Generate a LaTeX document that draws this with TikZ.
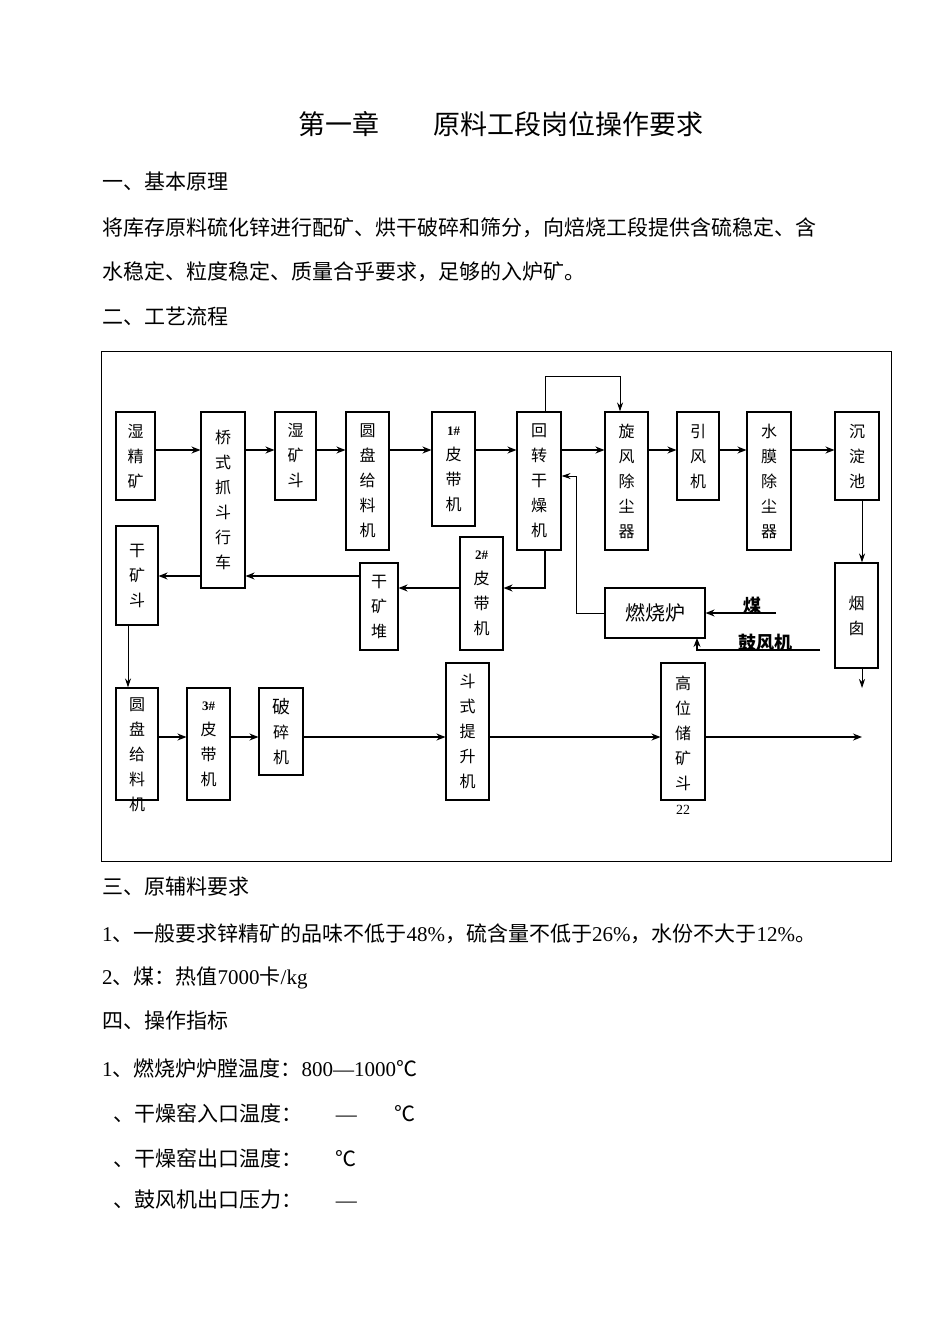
\documentclass[tikz,border=0pt]{standalone}
\usepackage{fontspec}
\setmainfont{Liberation Serif}
\newfontfamily\cjk{Noto Sans CJK SC}
\usetikzlibrary{arrows.meta}
\newcommand{\bx}[6]{%
\pgfmathsetmacro{\bw}{#4-#2}\pgfmathsetmacro{\bh}{#5-#3}%
\pgfmathsetmacro{\cx}{(#2+#4)/2}\pgfmathsetmacro{\cy}{(#3+#5)/2}%
\node[box,minimum width=\bw pt,minimum height=\bh pt] (#1) at (\cx,\cy) {#6};}
\begin{document}
\begin{tikzpicture}[x=1pt,y=-1pt,
 box/.style={draw,line width=1.1pt,inner sep=0pt,align=center,font=\fontsize{16}{25}\selectfont\cjk},
 arr/.style={-{Stealth[length=9pt,width=7pt]},line width=1.3pt},
 thin arr/.style={-{Stealth[length=9pt,width=6pt]},line width=0.8pt},
 body/.style={anchor=west,inner sep=0pt,font=\fontsize{21}{25}\selectfont}]
\useasboundingbox (0,0) rectangle (950,1344);
\node[inner sep=0pt,font=\fontsize{27}{30}\selectfont\cjk] (title) at (501,124) {第一章\hspace{2em}原料工段岗位操作要求};
\node[body] (t1) at (102,182) {\cjk 一、基本原理};
\node[body] (t2) at (102,228) {\cjk 将库存原料硫化锌进行配矿、烘干破碎和筛分，向焙烧工段提供含硫稳定、含};
\node[body] (t3) at (102,272) {\cjk 水稳定、粒度稳定、质量合乎要求，足够的入炉矿。};
\node[body] (t4) at (102,316) {\cjk 二、工艺流程};
\node[body] (t5) at (102,887) {\cjk 三、原辅料要求};
\node[body] (t6) at (102,934) {1{\cjk 、一般要求锌精矿的品味不低于}48\%{\cjk ，硫含量不低于}26\%{\cjk ，水份不大于}12\%{\cjk 。}};
\node[body] (t7) at (102,978) {2{\cjk 、煤：热值}7000{\cjk 卡}/kg};
\node[body] (t8) at (102,1021) {\cjk 四、操作指标};
\node[body] (t9) at (102,1068) {1{\cjk 、燃烧炉炉膛温度：}800—1000{\cjk ℃}};
\node[body] (t10) at (113,1113) {{\cjk 、干燥窑入口温度：}\hspace{1.6em}—\hspace{1.8em}{\cjk ℃}};
\node[body] (t11) at (113,1158) {{\cjk 、干燥窑出口温度：}\hspace{1.6em}{\cjk ℃}};
\node[body] (t12) at (113,1200) {{\cjk 、鼓风机出口压力：}\hspace{1.6em}—};
\draw[line width=1pt] (101,351) rectangle (891,861);
\bx{a1}{116}{412}{155}{500}{湿\\精\\矿}
\bx{a2}{201}{412}{245}{588}{桥\\式\\抓\\斗\\行\\车}
\bx{a3}{275}{412}{316}{500}{湿\\矿\\斗}
\bx{a4}{346}{412}{389}{550}{圆\\盘\\给\\料\\机}
\bx{a5}{432}{412}{475}{526}{{\rmfamily\bfseries\fontsize{13}{25}\selectfont 1\#}\\皮\\带\\机}
\bx{a6}{517}{412}{561}{550}{回\\转\\干\\燥\\机}
\bx{a7}{605}{412}{648}{550}{旋\\风\\除\\尘\\器}
\bx{a8}{677}{412}{719}{500}{引\\风\\机}
\bx{a9}{747}{412}{791}{550}{水\\膜\\除\\尘\\器}
\bx{a10}{835}{412}{879}{500}{沉\\淀\\池}
\bx{b1}{116}{526}{158}{625}{干\\矿\\斗}
\bx{b2}{460}{537}{503}{650}{{\rmfamily\bfseries\fontsize{13}{25}\selectfont 2\#}\\皮\\带\\机}
\bx{b3}{360}{563}{398}{650}{干\\矿\\堆}
\bx{b4}{835}{563}{878}{668}{烟\\囱}
\bx{f}{605}{588}{705}{638}{\fontsize{20}{22}\selectfont 燃烧炉}
\bx{c1}{116}{688}{158}{800}{}
\node[box,draw=none] (c1t) at (137,755) {圆\\盘\\给\\料\\机};
\bx{c2}{187}{688}{230}{800}{{\rmfamily\bfseries\fontsize{13}{25}\selectfont 3\#}\\皮\\带\\机}
\bx{c3}{259}{688}{303}{775}{\fontsize{18}{25}\selectfont 破\\碎\\机}
\bx{c4}{446}{663}{489}{800}{斗\\式\\提\\升\\机}
\bx{c5}{661}{663}{705}{800}{}
\node[box,draw=none] (c5t) at (683,745) {高\\位\\储\\矿\\斗\\{\rmfamily\fontsize{14}{14}\selectfont 22}};
\foreach \p/\q in {a1/a2,a2/a3,a3/a4,a4/a5,a5/a6,a6/a7,a7/a8,a8/a9,a9/a10}
 \draw[arr] (\p.east|-0,450) -- (\q.west|-0,450);
\draw[thin arr] (a6.north-|545,0) -- (545,376) -- (620,376) -- (a7.north-|620,0);
\draw[arr] (a6.south-|545,0) -- (545,588) -- (b2.east|-0,588);
\draw[arr] (b2.west|-0,588) -- (b3.east|-0,588);
\draw[arr] (b3.west|-0,576) -- (a2.east|-0,576);
\draw[arr] (a2.west|-0,576) -- (b1.east|-0,576);
\draw[thin arr] (f.west) -| (576,476) -- (a6.east|-0,476);
\node[inner sep=0pt,font=\fontsize{18}{20}\selectfont\bfseries\cjk] (coal) at (752,606) {煤};
\coordinate (coalS) at (776,613);
\draw[arr] (coalS) -- (f.east|-coalS);
\node[inner sep=0pt,font=\fontsize{18}{20}\selectfont\bfseries\cjk] (fan) at (765,643) {鼓风机};
\coordinate (fanS) at (820,650);
\draw[arr] (fanS) -- (697,650) -- (697,638);
\draw[thin arr] (a10.south-|862,0) -- (b4.north-|862,0);
\coordinate (chE) at (862,688);
\draw[thin arr] (b4.south-|862,0) -- (chE);
\draw[thin arr] (b1.south-|128,0) -- (c1.north-|128,0);
\draw[arr] (c1.east|-0,737) -- (c2.west|-0,737);
\draw[arr] (c2.east|-0,737) -- (c3.west|-0,737);
\draw[arr] (c3.east|-0,737) -- (c4.west|-0,737);
\draw[arr] (c4.east|-0,737) -- (c5.west|-0,737);
\coordinate (endE) at (862,737);
\draw[arr] (c5.east|-0,737) -- (endE);
\end{tikzpicture}
\end{document}
